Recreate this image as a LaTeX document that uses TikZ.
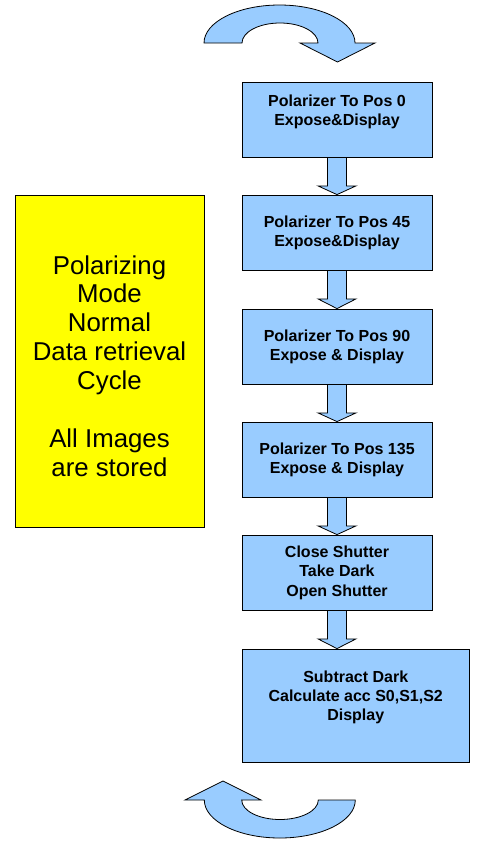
\documentclass[tikz,border=0pt]{standalone}
\usepackage{fontspec}
\setmainfont{Liberation Sans}
\usetikzlibrary{calc}

\definecolor{stepblue}{HTML}{99CCFF}
\definecolor{noteyellow}{HTML}{FFFF00}

\tikzset{
  stepbox/.style={draw=black, line width=0.8pt, fill=stepblue, align=center,
    minimum width=190pt, minimum height=75.5pt, inner sep=0pt,
    font=\fontsize{16}{19.2}\selectfont\bfseries},
  notebox/.style={draw=black, line width=0.8pt, fill=noteyellow, align=center,
    minimum width=189pt, minimum height=332pt, inner sep=0pt,
    font=\fontsize{25.8}{28.9}\selectfont},
  blockarrow/.style={draw=black, line width=0.8pt, fill=stepblue, line join=miter},
}

% hollow downward block arrow from the bottom of one step to the top of the next
\newcommand\flowarrow[2]{%
  \draw[blockarrow]
    ($(#1.south)+(-9.5,0)$) -- ($(#1.south)+(-9.5,28)$) -- ($(#1.south)+(-19,28)$)
    -- (#1.south |- #2.north)
    -- ($(#1.south)+(19,28)$) -- ($(#1.south)+(9.5,28)$) -- ($(#1.south)+(9.5,0)$);}

\begin{document}
\begin{tikzpicture}[x=1pt,y=-1pt]
\useasboundingbox (0,0) rectangle (477,841);

% curved arrow entering the cycle
\draw[blockarrow] (204,43) arc[start angle=180, end angle=0, x radius=75.5pt, y radius=38pt]
  -- (375,43) -- (337.5,62) -- (300,43) -- (318,43)
  arc[start angle=0, end angle=180, x radius=38pt, y radius=20pt] -- cycle;

% curved arrow returning to the start
\draw[blockarrow] (204.3,800) arc[start angle=180, end angle=360, x radius=75.5pt, y radius=38pt]
  -- (318.3,800)
  arc[start angle=0, end angle=-180, x radius=38.3pt, y radius=19.5pt]
  -- (261,800) -- (223,781) -- (185,800) -- cycle;

% step positions
\coordinate (p1) at (337,119.75);
\coordinate (p2) at (337,232.75);
\coordinate (p3) at (337,346.75);
\coordinate (p4) at (337,459.75);
\coordinate (p5) at (337,572.75);
\coordinate (p6) at (355.75,705.5);

% invisible placeholders so the arrows can be drawn under the boxes
\node[stepbox, draw=none, fill=none] (s1) at (p1) {};
\node[stepbox, draw=none, fill=none] (s2) at (p2) {};
\node[stepbox, draw=none, fill=none] (s3) at (p3) {};
\node[stepbox, draw=none, fill=none] (s4) at (p4) {};
\node[stepbox, draw=none, fill=none] (s5) at (p5) {};
\node[stepbox, draw=none, fill=none, minimum width=227.5pt, minimum height=113pt] (s6) at (p6) {};

\flowarrow{s1}{s2}
\flowarrow{s2}{s3}
\flowarrow{s3}{s4}
\flowarrow{s4}{s5}
\flowarrow{s5}{s6}

\node[stepbox] (b1) at (p1) {Polarizer To Pos 0\\Expose\&Display\\\mbox{}};
\node[stepbox] (b2) at (p2) {Polarizer To Pos 45\\Expose\&Display};
\node[stepbox] (b3) at (p3) {Polarizer To Pos 90\\Expose \& Display};
\node[stepbox] (b4) at (p4) {Polarizer To Pos 135\\Expose \& Display};
\node[stepbox] (b5) at (p5) {Close Shutter\\Take Dark\\Open Shutter};
\node[stepbox, minimum width=227.5pt, minimum height=113pt] (b6) at (p6)
  {Subtract Dark\\Calculate acc S0,S1,S2\\Display\\\mbox{}};

% side note
\node[notebox] (note) at (109.5,361) {};
\node[align=center, inner sep=0pt, font=\fontsize{25.8}{28.9}\selectfont] (notetext)
  at ($(note.center)+(0,5)$)
  {Polarizing\\Mode\\Normal\\Data retrieval\\Cycle\\[28.9pt]All Images\\are stored};
\end{tikzpicture}
\end{document}
